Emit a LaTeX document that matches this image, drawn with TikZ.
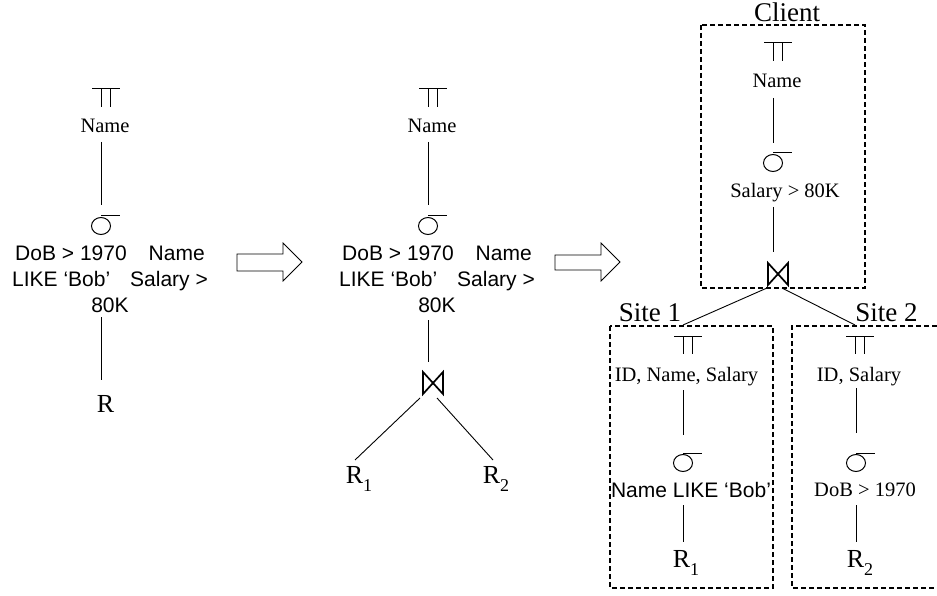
\documentclass[tikz,border=0pt]{standalone}
\usepackage{fontspec}
\setmainfont{Liberation Serif}
\newfontfamily\arialf{Liberation Sans}
\newcommand\subr[1]{\raisebox{-8pt}{\fontsize{18}{18}\selectfont #1}}
\begin{document}
\begin{tikzpicture}[x=1pt,y=-1pt,
  serif/.style={font=\fontsize{20.5}{24}\selectfont, inner sep=0pt, anchor=base},
  sans/.style={font=\arialf\fontsize{21}{26}\selectfont, inner sep=0pt, anchor=base},
  rel/.style={font=\fontsize{26}{30}\selectfont, inner sep=0pt, anchor=base},
  sitelabel/.style={font=\fontsize{27}{30}\selectfont, inner sep=0pt, anchor=base},
  edge/.style={line width=0.9pt},
  sitebox/.style={line width=1.3pt, dash pattern=on 5pt off 3pt},
  blockarrow/.style={draw, line width=0.8pt, fill=white},
  projsym/.pic={\draw[line width=1pt] (-14,0) -- (14,0); \draw[line width=1pt] (-4.5,0) -- (-4.5,18) (4.5,0) -- (4.5,18);},
  selsym/.pic={\draw[line width=1pt] (0,0) ellipse [x radius=9.5, y radius=8.5]; \draw[line width=1pt] (0,-10) -- (19,-10);},
  joinsym/.pic={\draw[line width=1.7pt, line join=miter] (-10,-11) -- (-10,11) -- (10,-11) -- (10,11) -- cycle;}
]
\useasboundingbox (0,0) rectangle (937,596);

% ---------- left tree ----------
\pic at (106,89) {projsym};
\node[serif] (Lname) at (105,133) {Name};
\coordinate (Lname-s) at (101,142);
\coordinate (Lsel-n) at (101,205);
\pic at (101,226) {selsym};
\node[sans] (Lc1) at (110,260) {DoB > 1970\hspace{22pt}Name};
\node[sans] (Lc2) at (110,286) {LIKE ‘Bob’\hspace{20pt}Salary >};
\node[sans] (Lc3) at (110,312) {80K};
\coordinate (Lc3-s) at (101,317);
\coordinate (LR-n) at (101,380);
\node[rel] (LR) at (105.5,412) {R};
\draw[edge] (Lname-s) -- (Lsel-n);
\draw[edge] (Lc3-s) -- (LR-n);

% ---------- arrow 1 ----------
\draw[blockarrow] (237,254) -- (283,254) -- (283,243) -- (302,262) -- (283,281) -- (283,271) -- (237,271) -- cycle;

% ---------- middle tree ----------
\pic at (433,89) {projsym};
\node[serif] (Mname) at (432,133) {Name};
\coordinate (Mname-s) at (428,142);
\coordinate (Msel-n) at (428,205);
\pic at (428,226) {selsym};
\node[sans] (Mc1) at (437,260) {DoB > 1970\hspace{22pt}Name};
\node[sans] (Mc2) at (437,286) {LIKE ‘Bob’\hspace{20pt}Salary >};
\node[sans] (Mc3) at (437,312) {80K};
\coordinate (Mc3-s) at (428,320);
\coordinate (Mjoin-n) at (428,362);
\pic at (433,383) {joinsym};
\coordinate (Mjoin-sw) at (420,398);
\coordinate (Mjoin-se) at (437,398);
\coordinate (MR1-n) at (355,460);
\coordinate (MR2-n) at (493,460);
\node[rel] (MR1) at (359,483) {R\subr{1}};
\node[rel] (MR2) at (496,483) {R\subr{2}};
\draw[edge] (Mname-s) -- (Msel-n);
\draw[edge] (Mc3-s) -- (Mjoin-n);
\draw[edge] (Mjoin-sw) -- (MR1-n);
\draw[edge] (Mjoin-se) -- (MR2-n);

% ---------- arrow 2 ----------
\draw[blockarrow] (555,255) -- (601,255) -- (601,243) -- (620,262) -- (601,281) -- (601,270) -- (555,270) -- cycle;

% ---------- client ----------
\draw[sitebox] (701,25) rectangle (865,288);
\node[sitelabel] (client) at (787,22) {Client};
\begin{scope}[xscale=0.72]
\pic at (778/0.72,43) {projsym};
\end{scope}
\node[serif] (Cname) at (777,88) {Name};
\coordinate (Cname-s) at (773,98);
\coordinate (Csel-n) at (773,143);
\pic at (773,163) {selsym};
\node[serif] (Ccond) at (785,198) {Salary > 80K};
\coordinate (Ccond-s) at (773,207);
\coordinate (Cjoin-n) at (773,252);
\pic at (778,274) {joinsym};
\coordinate (Cjoin-sw) at (767,288);
\coordinate (Cjoin-se) at (782,288);
\draw[edge] (Cname-s) -- (Csel-n);
\draw[edge] (Ccond-s) -- (Cjoin-n);

% ---------- site 1 ----------
\draw[sitebox] (610,326) rectangle (773,588);
\node[sitelabel] (site1) at (650,321) {Site 1};
\coordinate (S1top) at (683,325);
\pic at (688,336) {projsym};
\node[serif] (S1proj) at (686.5,381) {ID, Name, Salary};
\coordinate (S1proj-s) at (683,390);
\coordinate (S1sel-n) at (683,435);
\pic at (683,463) {selsym};
\node[sans] (S1cond) at (691,497) {Name LIKE ‘Bob’};
\coordinate (S1cond-s) at (683,505);
\coordinate (S1R-n) at (683,542);
\node[rel] (S1R) at (686,567) {R\subr{1}};
\draw[edge] (S1proj-s) -- (S1sel-n);
\draw[edge] (S1cond-s) -- (S1R-n);

% ---------- site 2 ----------
\draw[sitebox] (937,326) -- (792,326) -- (792,588) -- (937,588);
\node[sitelabel] (site2) at (886.5,321) {Site 2};
\coordinate (S2top) at (855,325);
\pic at (860,336) {projsym};
\node[serif] (S2proj) at (859,381) {ID, Salary};
\coordinate (S2proj-s) at (856,388);
\coordinate (S2sel-n) at (856,433);
\pic at (856,463) {selsym};
\node[serif] (S2cond) at (865,496) {DoB > 1970};
\coordinate (S2cond-s) at (856,505);
\coordinate (S2R-n) at (856,542);
\node[rel] (S2R) at (860,567) {R\subr{2}};
\draw[edge] (S2proj-s) -- (S2sel-n);
\draw[edge] (S2cond-s) -- (S2R-n);

% ---------- join to sites ----------
\draw[edge] (Cjoin-sw) -- (S1top);
\draw[edge] (Cjoin-se) -- (S2top);
\end{tikzpicture}
\end{document}
